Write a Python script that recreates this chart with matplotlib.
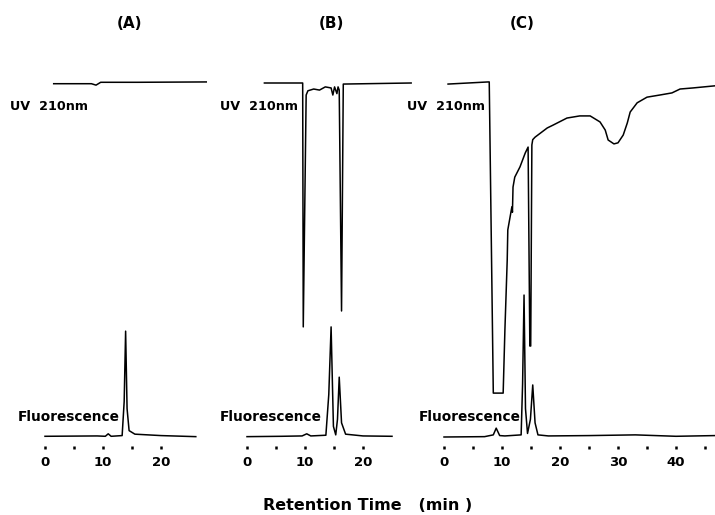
import matplotlib.pyplot as plt

W, H = 715, 515

# ---- data (retention time in min, detector response in arbitrary units) ----
# fluorescence baseline = 0, UV baseline = 100

# panel A
uv_a_t = [1.5, 8.0, 8.8, 9.6, 16.0, 27.8]
uv_a_y = [99.8, 99.8, 99.4, 100.2, 100.2, 100.3]
fl_a_t = [0.0, 9.0, 10.4, 10.9, 11.4, 13.3, 13.65, 13.9, 14.15, 14.5, 15.5, 20.0, 26.0]
fl_a_y = [0.2, 0.3, 0.2, 0.9, 0.2, 0.4, 10.0, 29.9, 8.0, 1.8, 0.8, 0.4, 0.1]

# panel B
uv_b_t = [3.0, 9.6, 9.7, 10.2, 10.5, 11.5, 12.5, 13.5, 14.5, 14.8, 15.1, 15.5,
          15.7, 15.9, 16.3, 16.6, 28.3]
uv_b_y = [100.0, 100.0, 31.1, 96.6, 97.8, 98.3, 98.0, 98.9, 98.6, 96.6, 98.9,
          97.0, 98.9, 98.0, 35.6, 99.7, 100.0]
fl_b_t = [0.0, 6.0, 9.5, 10.3, 11.0, 13.6, 14.1, 14.5, 14.9, 15.3, 15.6, 15.9,
          16.3, 17.0, 20.0, 25.0]
fl_b_y = [0.1, 0.2, 0.3, 0.9, 0.3, 0.5, 12.0, 31.1, 3.0, 0.6, 5.0, 16.9, 4.0,
          0.8, 0.3, 0.2]

# panel C
uv_c_t = [0.7, 7.6, 7.8, 8.5, 10.2, 10.5, 10.9, 11.0, 11.7, 11.8, 11.9, 12.2,
          13.1, 14.0, 14.5, 14.8, 14.95, 15.15, 15.3, 15.7, 17.8, 18.8, 21.2,
          23.4, 25.2, 26.9, 27.8, 28.3, 29.3, 30.0, 30.9, 31.6, 32.1, 33.3,
          35.0, 37.2, 39.3, 40.7, 42.9, 46.7]
uv_c_y = [99.7, 100.3, 100.3, 12.4, 12.4, 30.2, 50.0, 58.5, 65.0, 63.5, 70.6,
          73.4, 76.3, 80.2, 81.9, 25.7, 25.7, 82.5, 84.0, 84.7, 87.3, 88.1,
          90.1, 90.7, 90.7, 89.0, 86.7, 83.9, 82.8, 83.1, 85.3, 88.7, 91.8,
          94.4, 96.0, 96.6, 97.2, 98.3, 98.6, 99.2]
fl_c_t = [0.0, 7.0, 8.5, 9.0, 9.6, 10.5, 13.3, 13.55, 13.8, 14.05, 14.4, 14.9,
          15.3, 15.7, 16.2, 18.0, 25.0, 33.0, 40.0, 46.7]
fl_c_y = [0.0, 0.1, 0.6, 2.5, 0.4, 0.3, 0.6, 15.0, 40.1, 8.0, 1.0, 5.0, 14.7,
          4.0, 0.6, 0.3, 0.4, 0.6, 0.2, 0.4]

panel_letters = ["(A)", "(B)", "(C)"]
tick_a = [0, 5, 10, 15, 20]
tick_b = [0, 5, 10, 15, 20]
tick_c = [0, 5, 10, 15, 20, 25, 30, 35, 40, 45]

# ---- layout in pixels ----
PX_PER_MIN = 5.8
Y_TOP, Y_BOT = 70, 446          # axes top / bottom
BASE_PX, UV_PX = 437, 83        # fluorescence baseline / UV baseline
units_per_px = 100.0 / (BASE_PX - UV_PX)
ylim = (-(Y_BOT - BASE_PX) * units_per_px, (BASE_PX - Y_TOP) * units_per_px)


def fx(px):
    return px / W


def fy(py):
    return 1 - py / H


fig = plt.figure(figsize=(W / 100, H / 100), dpi=100)
fig.patch.set_facecolor("white")

panels = [
    # left px, right px, zero px, uv t, uv y, fl t, fl y, ticks
    (40, 212, 45, uv_a_t, uv_a_y, fl_a_t, fl_a_y, tick_a),
    (240, 412, 247, uv_b_t, uv_b_y, fl_b_t, fl_b_y, tick_b),
    (440, 715, 444, uv_c_t, uv_c_y, fl_c_t, fl_c_y, tick_c),
]

for left, right, zero, ut, uy, ft, fyv, ticks in panels:
    ax = fig.add_axes([fx(left), fy(Y_BOT), fx(right - left), (Y_BOT - Y_TOP) / H])
    ax.set_xlim((left - zero) / PX_PER_MIN, (right - zero) / PX_PER_MIN)
    ax.set_ylim(*ylim)
    ax.plot(ut, uy, color="black", lw=1.1)
    ax.plot(ft, fyv, color="black", lw=1.1)
    for s in ax.spines.values():
        s.set_visible(False)
    ax.set_yticks([])
    ax.set_xticks(ticks)
    ax.set_xticklabels([str(t) if t % 10 == 0 else "" for t in ticks],
                       fontsize=9.5, fontweight="bold")
    ax.tick_params(axis="x", direction="out", length=2.5, width=1.8, pad=5)
    ax.set_facecolor("none")

# panel titles
for label, cx in zip(panel_letters, [130, 331, 522]):
    fig.text(fx(cx), fy(23), label, ha="center", va="center",
             fontsize=11, fontweight="bold")

# detector labels
for x0 in [10, 220, 407]:
    fig.text(fx(x0), fy(107), "UV  210nm", ha="left", va="center",
             fontsize=9.2, fontweight="bold")
for x0 in [18, 220, 419]:
    fig.text(fx(x0), fy(417), "Fluorescence", ha="left", va="center",
             fontsize=9.8, fontweight="bold")

fig.text(fx(368), fy(506), "Retention Time   (min )", ha="center", va="center",
         fontsize=11.5, fontweight="bold")

fig.savefig("out.png", dpi=100)
